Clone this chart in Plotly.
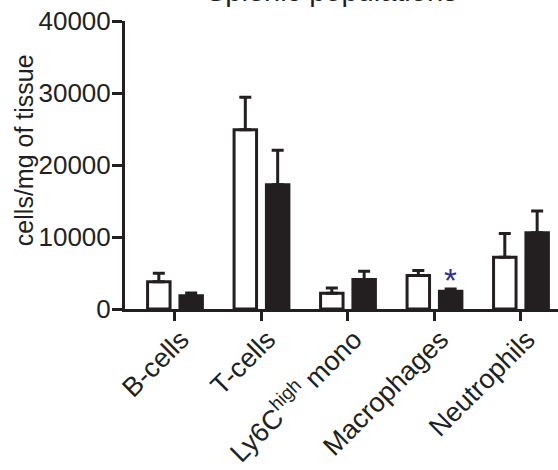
import plotly.graph_objects as go

categories = ["B-cells", "T-cells", "Ly6C<sup>high</sup> mono", "Macrophages", "Neutrophils"]
open_means = [3800, 24900, 2200, 4650, 7200]
open_err = [1150, 4500, 700, 700, 3300]
filled_means = [1850, 17250, 4100, 2450, 10600]
filled_err = [380, 4800, 1150, 330, 3000]
y_ticks = [0, 10000, 20000, 30000, 40000]
star_category_index = 3
star_value = 4000

INK = "#231f20"
fig = go.Figure()
fig.add_trace(go.Bar(
    x=categories, y=open_means, name="open",
    marker=dict(color="white", line=dict(color=INK, width=3)),
    error_y=dict(type="data", symmetric=False, array=open_err,
                 arrayminus=[0] * len(open_err), color=INK, thickness=3, width=6),
))
fig.add_trace(go.Bar(
    x=categories, y=filled_means, name="filled",
    marker=dict(color=INK, line=dict(color=INK, width=3)),
    error_y=dict(type="data", symmetric=False, array=filled_err,
                 arrayminus=[0] * len(filled_err), color=INK, thickness=3, width=6),
))

fig.add_annotation(x=star_category_index + 0.18, y=star_value, xref="x", yref="y",
                   text="*", showarrow=False, font=dict(size=33, color="#2e3192",
                   family="Liberation Sans, Arial"), xanchor="center", yanchor="middle")

fig.add_annotation(x=0.478, y=1.042, xref="paper", yref="paper",
                   text="Splenic populations", showarrow=False,
                   font=dict(size=29, color=INK, family="Liberation Sans, Arial"),
                   xanchor="center", yanchor="bottom")

fig.add_annotation(x=-0.233, y=0.552, xref="paper", yref="paper",
                   text="cells/mg of tissue", showarrow=False, textangle=-90,
                   font=dict(size=25, color=INK, family="Liberation Sans, Arial"),
                   xanchor="center", yanchor="middle")

fig.update_layout(
    width=558, height=470, autosize=False,
    margin=dict(l=125, r=0, t=21, b=161, pad=0, autoexpand=False),
    paper_bgcolor="white", plot_bgcolor="white",
    barmode="group", bargap=0.252, bargroupgap=0.305,
    showlegend=False,
    font=dict(family="Liberation Sans, Arial", color=INK),
)
fig.update_xaxes(
    type="category", range=[-0.578, 4.428], automargin=False,
    showline=True, linewidth=3, linecolor=INK,
    ticks="outside", ticklen=9, tickwidth=3, tickcolor=INK,
    tickangle=-45, tickfont=dict(size=27, color=INK, family="Liberation Sans, Arial"),
    ticklabelstandoff=-8, ticklabelshift=6,
    showgrid=False, zeroline=False,
)
fig.update_yaxes(
    range=[0, 40000], tickvals=y_ticks, tickformat="d", automargin=False,
    showline=True, linewidth=3, linecolor=INK,
    ticks="outside", ticklen=10, tickwidth=3, tickcolor=INK,
    tickfont=dict(size=26, color=INK, family="Liberation Sans, Arial"),
    ticklabelstandoff=-4,
    showgrid=False, zeroline=False,
)

fig.write_html("out.html")
